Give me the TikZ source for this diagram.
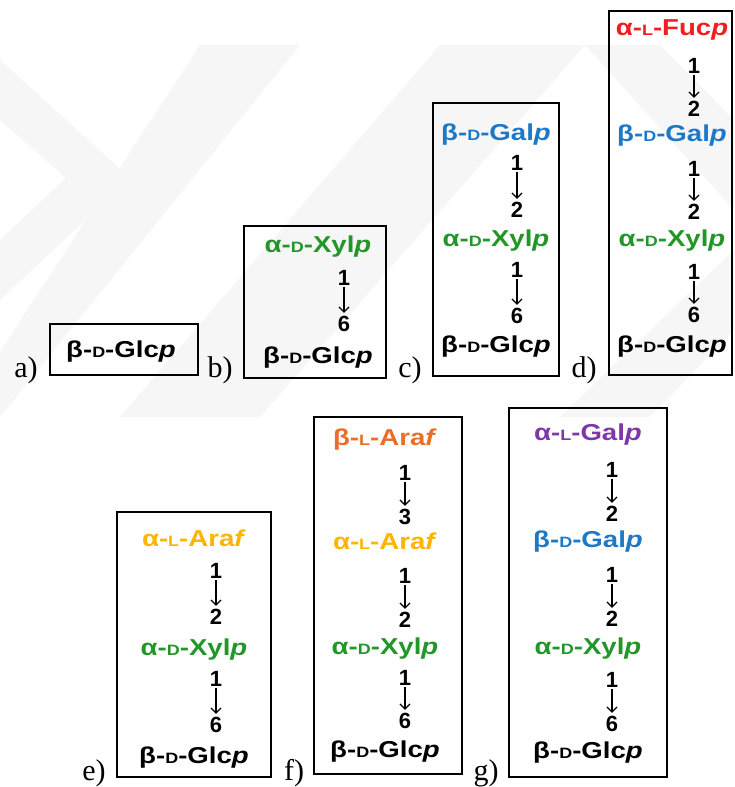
\documentclass[tikz,border=0pt]{standalone}
\usepackage{fontspec}
\setmainfont{Liberation Serif}
\newfontfamily\sgf[FakeStretch=1.2]{Liberation Sans}
\newfontfamily\numf{Liberation Sans}
\usetikzlibrary{arrows.meta}
\definecolor{cGreen}{RGB}{34,150,40}
\definecolor{cBlue}{RGB}{30,120,200}
\definecolor{cRed}{RGB}{240,30,30}
\definecolor{cYel}{RGB}{255,180,0}
\definecolor{cOra}{RGB}{235,110,40}
\definecolor{cPur}{RGB}{125,55,170}
\definecolor{wm}{RGB}{246,246,246}
\newcommand\sgname[5]{\textcolor{#1}{#2-{\fontsize{15}{15}\selectfont #3}-#4\textit{#5}}}
\tikzset{
  sugar/.style={inner sep=0pt, font=\sgf\bfseries\fontsize{23}{23}\selectfont, text height=16pt, text depth=0pt},
  num/.style={inner sep=1pt, font=\numf\bfseries\fontsize{22}{22}\selectfont, text height=16pt, text depth=0pt},
  link/.style={line width=1.2pt, -{Straight Barb[length=5pt,width=10pt,line width=1.2pt]}, shorten <=1pt, shorten >=1pt},
  frame/.style={draw=black, line width=1.3pt},
  lab/.style={font=\fontsize{30}{30}\selectfont, anchor=base, inner sep=0pt}
}
\begin{document}
\begin{tikzpicture}[x=1pt,y=-1pt]
\useasboundingbox (0,0) rectangle (734,787);
\fill[white] (0,0) rectangle (734,787);
% watermark (faint)
\begin{scope}
\clip (0,45) rectangle (734,417);
\fill[wm] (0,60) -- (130,178) -- (0,300) -- (0,240) -- (66,178) -- (0,120) -- cycle;
\fill[wm] (0,352) -- (200,45) -- (300,45) -- (0,417) -- cycle;
\fill[wm] (120,417) -- (440,45) -- (585,45) -- (260,417) -- cycle;
\fill[wm] (585,45) -- (660,45) -- (734,120) -- (734,210) -- cycle;
\fill[wm] (560,417) -- (734,250) -- (734,330) -- (650,417) -- cycle;
\end{scope}
% ---------- a ----------
\draw[frame] (50,324) rectangle (198,375);
\node[sugar] (a1) at (121,349) {\sgname{black}{β}{D}{Glc}{p}};
\node[lab] (la) at (26,377) {a)};
% ---------- b ----------
\draw[frame] (244,226) rectangle (386,378);
\node[sugar] (b1) at (318,244) {\sgname{cGreen}{α}{D}{Xyl}{p}};
\node[num] (bn1) at (344,277) {1};
\node[num] (bn2) at (344,323) {6};
\node[sugar] (b2) at (318,355) {\sgname{black}{β}{D}{Glc}{p}};
\draw[link] (bn1) -- (bn2);
\node[lab] (lb) at (220,377) {b)};
% ---------- c ----------
\draw[frame] (433,103) rectangle (559,376);
\node[sugar] (c1) at (496,132) {\sgname{cBlue}{β}{D}{Gal}{p}};
\node[num] (cn1) at (517,162) {1};
\node[num] (cn2) at (517,209) {2};
\node[sugar] (c2) at (496,238) {\sgname{cGreen}{α}{D}{Xyl}{p}};
\node[num] (cn3) at (517,269) {1};
\node[num] (cn4) at (517,315) {6};
\node[sugar] (c3) at (496,344) {\sgname{black}{β}{D}{Glc}{p}};
\draw[link] (cn1) -- (cn2);
\draw[link] (cn3) -- (cn4);
\node[lab] (lc) at (410,377) {c)};
% ---------- d ----------
\draw[frame] (609,11) rectangle (732,375);
\node[sugar] (d1) at (672,27) {\sgname{cRed}{α}{L}{Fuc}{p}};
\node[num] (dn1) at (694,65) {1};
\node[num] (dn2) at (694,108) {2};
\node[sugar] (d2) at (672,133) {\sgname{cBlue}{β}{D}{Gal}{p}};
\node[num] (dn3) at (694,168) {1};
\node[num] (dn4) at (694,211) {2};
\node[sugar] (d3) at (672,238) {\sgname{cGreen}{α}{D}{Xyl}{p}};
\node[num] (dn5) at (694,271) {1};
\node[num] (dn6) at (694,314) {6};
\node[sugar] (d4) at (672,344) {\sgname{black}{β}{D}{Glc}{p}};
\draw[link] (dn1) -- (dn2);
\draw[link] (dn3) -- (dn4);
\draw[link] (dn5) -- (dn6);
\node[lab] (ld) at (584,377) {d)};
% ---------- e ----------
\draw[frame] (117,512) rectangle (271,777);
\node[sugar] (e1) at (194,538) {\sgname{cYel}{α}{L}{Ara}{f}};
\node[num] (en1) at (216,570) {1};
\node[num] (en2) at (216,616) {2};
\node[sugar] (e2) at (194,647) {\sgname{cGreen}{α}{D}{Xyl}{p}};
\node[num] (en3) at (216,678) {1};
\node[num] (en4) at (216,724) {6};
\node[sugar] (e3) at (194,755) {\sgname{black}{β}{D}{Glc}{p}};
\draw[link] (en1) -- (en2);
\draw[link] (en3) -- (en4);
\node[lab] (le) at (94,780) {e)};
% ---------- f ----------
\draw[frame] (314,417) rectangle (462,774);
\node[sugar] (f1) at (385,437) {\sgname{cOra}{β}{L}{Ara}{f}};
\node[num] (fn1) at (405,472) {1};
\node[num] (fn2) at (405,516) {3};
\node[sugar] (f2) at (385,541) {\sgname{cYel}{α}{L}{Ara}{f}};
\node[num] (fn3) at (405,575) {1};
\node[num] (fn4) at (405,619) {2};
\node[sugar] (f3) at (385,646) {\sgname{cGreen}{α}{D}{Xyl}{p}};
\node[num] (fn5) at (405,677) {1};
\node[num] (fn6) at (405,720) {6};
\node[sugar] (f4) at (385,749) {\sgname{black}{β}{D}{Glc}{p}};
\draw[link] (fn1) -- (fn2);
\draw[link] (fn3) -- (fn4);
\draw[link] (fn5) -- (fn6);
\node[lab] (lf) at (294,780) {f)};
% ---------- g ----------
\draw[frame] (509,408) rectangle (667,777);
\node[sugar] (g1) at (588,432) {\sgname{cPur}{α}{L}{Gal}{p}};
\node[num] (gn1) at (612,469) {1};
\node[num] (gn2) at (612,513) {2};
\node[sugar] (g2) at (588,539) {\sgname{cBlue}{β}{D}{Gal}{p}};
\node[num] (gn3) at (612,574) {1};
\node[num] (gn4) at (612,618) {2};
\node[sugar] (g3) at (588,646) {\sgname{cGreen}{α}{D}{Xyl}{p}};
\node[num] (gn5) at (612,679) {1};
\node[num] (gn6) at (612,723) {6};
\node[sugar] (g4) at (588,750) {\sgname{black}{β}{D}{Glc}{p}};
\draw[link] (gn1) -- (gn2);
\draw[link] (gn3) -- (gn4);
\draw[link] (gn5) -- (gn6);
\node[lab] (lg) at (486,780) {g)};
\end{tikzpicture}
\end{document}
